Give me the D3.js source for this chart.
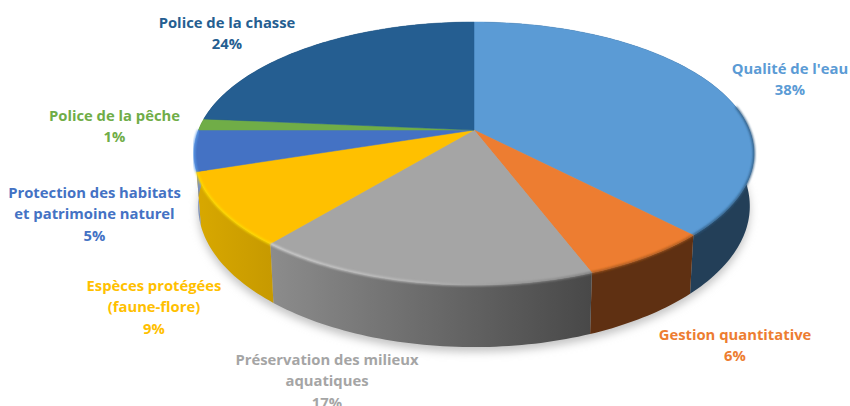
<!DOCTYPE html>
<html>
<head>
<meta charset="utf-8">
<script src="https://cdn.jsdelivr.net/npm/d3@7"></script>
<style>
    html, body { margin: 0; padding: 0; background: #fff; overflow: hidden; }
    #chart { width: 850px; height: 406px; }
    .label { font-family: "Open Sans", sans-serif; font-weight: 700; font-size: 14.8px; text-anchor: middle; }
</style>
</head>
<body>
<div id="chart"></div>
<script>
    /*
    DATA
    */
    const categories = [
        ["Qualité de l'eau"],
        ["Gestion quantitative"],
        ["Préservation des milieux", "aquatiques"],
        ["Espèces protégées", "(faune-flore)"],
        ["Protection des habitats", "et patrimoine naturel"],
        ["Police de la pêche"],
        ["Police de la chasse"]
    ];
    const shares = [37.8, 6.4, 16.8, 9, 5, 1.4, 23.6];

    /* colours */
    const topColors = ["#5b9bd5", "#ed7d31", "#a5a5a5", "#ffc000", "#4472c4", "#70ad47", "#255e91"];
    const sideLeft = ["#233f58", "#5f3012", "#8c8c8c", "#d8a800", "#7d90b8", "#44692b", "#16385a"];
    const sideRight = ["#233f58", "#5f3012", "#484848", "#c79a00", "#7d90b8", "#44692b", "#16385a"];
    const rimColors = ["#2f5a80", "#a3561f", "#d8d8d8", "#ffdf00", "#5b9bea", "#70ad47", "#255e91"];

    /* label centres: x, first baseline */
    const labelX = [790, 735, 327, 154, 94.5, 114.5, 227];
    const labelY = [74, 340, 365, 291, 198, 121, 28];

    /*
    DEFINE DIMENSIONS AND GENERATE SVG
    */
    const width = 850;
    const height = 406;
    const cx = 474;
    const cy = 130;
    const persp = 0.1787;   // pie is tilted, front looks bigger than back
    const rx = 275.5;
    const ry = 127.3;
    const depth = 51;

    const svg = d3.select("#chart")
        .append("svg")
        .attr("width", width)
        .attr("height", height);

    const defs = svg.append("defs");
    defs.append("filter").attr("id", "soft")
        .attr("x", "-10%").attr("y", "-10%").attr("width", "120%").attr("height", "120%")
        .append("feGaussianBlur").attr("stdDeviation", 4);
    defs.append("filter").attr("id", "rim")
        .attr("x", "-10%").attr("y", "-10%").attr("width", "120%").attr("height", "120%")
        .append("feGaussianBlur").attr("stdDeviation", 0.8);

    /*
    PROJECT ANGLES ONTO THE TILTED DISC
    */
    function topPoint(a) {
        const u = Math.sin(a);
        const v = Math.cos(a);
        const w = 1 + persp * v;
        return [cx + rx * u / w, cy - ry * v / w];
    }

    function bottomPoint(a) {
        const p = topPoint(a);
        const w = 1 + persp * Math.cos(a);
        return [cx + (p[0] - cx) * 0.985, p[1] + depth / w];
    }

    function sample(start, end) {
        const n = Math.max(2, Math.ceil((end - start) / 0.02));
        return d3.range(n + 1).map(function(i) { return start + (end - start) * i / n; });
    }

    const line = d3.line();
    const arcs = d3.pie().sort(null)(shares);

    /*
    SHADOW UNDER THE PIE
    */
    const rimAll = sample(0, 2 * Math.PI);
    svg.append("path")
        .attr("d", line(rimAll.map(bottomPoint).map(function(p) { return [p[0], p[1] + 5]; })) + "Z")
        .attr("fill", "#c4c4c4")
        .attr("filter", "url(#soft)");

    /*
    SIDE WALLS
    */
    arcs.forEach(function(d, i) {
        const angles = sample(d.startAngle, d.endAngle);
        const xs = angles.map(function(a) { return topPoint(a)[0]; });
        const grad = defs.append("linearGradient")
            .attr("id", "side" + i)
            .attr("gradientUnits", "userSpaceOnUse")
            .attr("x1", d3.min(xs)).attr("x2", d3.max(xs))
            .attr("y1", 0).attr("y2", 0);
        grad.append("stop").attr("offset", 0).attr("stop-color", sideLeft[i]);
        grad.append("stop").attr("offset", 1).attr("stop-color", sideRight[i]);

        svg.append("path")
            .attr("d", line(angles.map(topPoint).concat(angles.slice().reverse().map(bottomPoint))) + "Z")
            .attr("fill", "url(#side" + i + ")");
    });

    /*
    TOP SLICES
    */
    arcs.forEach(function(d, i) {
        const pts = [[cx, cy]].concat(sample(d.startAngle, d.endAngle).map(topPoint));
        svg.append("path")
            .attr("d", line(pts) + "Z")
            .attr("fill", topColors[i])
            .attr("stroke", topColors[i])
            .attr("stroke-width", 0.5);
    });

    /*
    BEVEL ALONG THE FRONT OF THE RIM
    */
    const greyRim = defs.append("linearGradient")
        .attr("id", "greyRim")
        .attr("gradientUnits", "userSpaceOnUse")
        .attr("x1", 272).attr("x2", 593).attr("y1", 0).attr("y2", 0);
    greyRim.append("stop").attr("offset", 0).attr("stop-color", rimColors[2]);
    greyRim.append("stop").attr("offset", 0.45).attr("stop-color", "#bbbbbb");
    greyRim.append("stop").attr("offset", 1).attr("stop-color", "#777777");

    const rimStart = Math.PI * 0.44;
    const rimEnd = Math.PI * 1.5;

    arcs.forEach(function(d, i) {
        const start = Math.max(d.startAngle, rimStart);
        const end = Math.min(d.endAngle, rimEnd);
        if (end <= start) return;
        svg.append("path")
            .attr("d", line(sample(start, end).map(topPoint)))
            .attr("fill", "none")
            .attr("stroke", i === 2 ? "url(#greyRim)" : rimColors[i])
            .attr("stroke-width", 2)
            .attr("filter", "url(#rim)");
    });

    /*
    DRAW LABELS
    */
    categories.forEach(function(lines, i) {
        const rows = lines.concat([Math.round(shares[i]) + "%"]);
        svg.selectAll(null)
            .data(rows)
            .enter()
            .append("text")
            .attr("class", "label")
            .attr("x", labelX[i])
            .attr("y", function(d, j) { return labelY[i] + j * 21.4; })
            .attr("fill", topColors[i])
            .text(function(d) { return d; });
    });
</script>
</body>
</html>
